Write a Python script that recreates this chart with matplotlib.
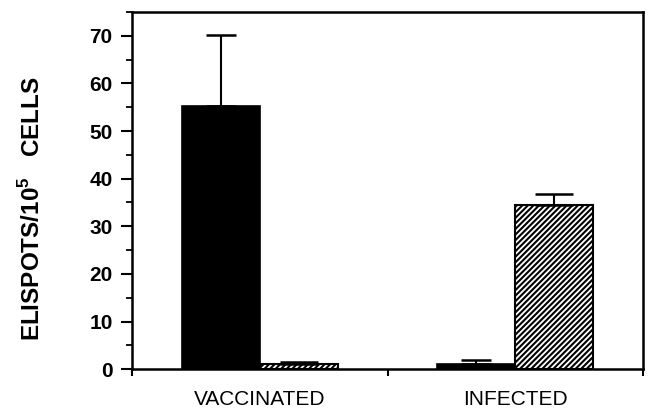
import numpy as np
import matplotlib.pyplot as plt
from matplotlib.ticker import MultipleLocator

plt.rcParams['font.family'] = ['Liberation Sans', 'DejaVu Sans']
plt.rcParams['mathtext.fontset'] = 'custom'
plt.rcParams['mathtext.bf'] = 'Liberation Sans:bold'
plt.rcParams['mathtext.rm'] = 'Liberation Sans:bold'

groups = ['VACCINATED', 'INFECTED']
# first bar of each group: solid black, second: hatched
solid_vals = [55.3, 1.0]
solid_err = [14.9, 1.0]
hatch_vals = [1.0, 34.5]
hatch_err = [0.5, 2.3]

fig = plt.figure(figsize=(6.48, 4.12), dpi=100)
ax = fig.add_axes([0.204, 0.104, 0.788, 0.867])

pos = np.array([0.5, 1.5])
w = 0.305

ax.bar(pos - w / 2, solid_vals, w, color='black', edgecolor='black', linewidth=1.2, zorder=2)
ax.errorbar(pos - w / 2, solid_vals, yerr=[np.zeros(2), solid_err], fmt='none',
            ecolor='black', elinewidth=1.5, capsize=11, capthick=1.8, zorder=3)

plt.rcParams['hatch.linewidth'] = 1.5
ax.bar(pos + w / 2, hatch_vals, w, color='white', edgecolor='black', hatch='//////',
       linewidth=1.5, zorder=2)
ax.errorbar(pos + w / 2, hatch_vals, yerr=[np.zeros(2), hatch_err], fmt='none',
            ecolor='black', elinewidth=1.5, capsize=14, capthick=1.8, zorder=3)

ax.set_xlim(0, 2)
ax.set_ylim(0, 75)
ax.set_xticks([0, 1, 2])
ax.set_xticklabels([])
ax.set_xticks(pos, minor=True)
ax.set_xticklabels(groups, minor=True, fontsize=15)
ax.tick_params(axis='x', which='minor', length=0, pad=15)
ax.tick_params(axis='x', which='major', length=5, width=1.5, direction='out')

ax.set_yticks(np.arange(0, 71, 10))
ax.yaxis.set_minor_locator(MultipleLocator(5))
ax.tick_params(axis='y', which='major', length=8, width=1.5, direction='out',
               labelsize=15, pad=6)
ax.tick_params(axis='y', which='minor', length=4, width=1.3, direction='out')
for lab in ax.get_yticklabels():
    lab.set_fontweight('bold')

for s in ax.spines.values():
    s.set_linewidth(1.8)

ax.set_ylabel('ELISPOTS/10$^\\mathbf{5}$   CELLS', fontsize=17.5, fontweight='bold')
ax.yaxis.set_label_coords(-0.17, 0.45)

fig.savefig('out.png', dpi=100)
